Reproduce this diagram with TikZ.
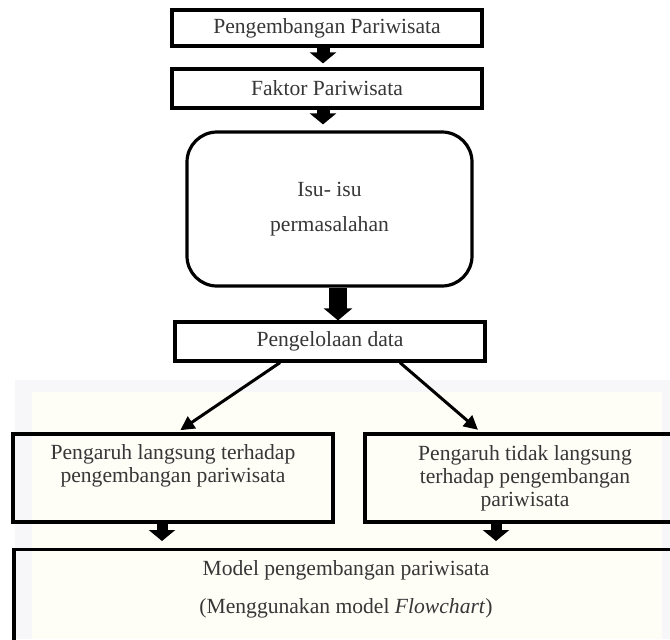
\documentclass[tikz,border=0pt]{standalone}
\usepackage{fontspec}
\setmainfont{Liberation Serif}
\usetikzlibrary{arrows.meta,calc}
\definecolor{txtgray}{RGB}{55,55,55}
\definecolor{wmgray}{RGB}{247,247,249}
\definecolor{wmcream}{RGB}{254,253,246}
\tikzset{
  box/.style={draw=black, line width=1.6pt, rectangle, inner sep=0pt,
    text=txtgray, align=center, font=\fontsize{10.8}{11.5}\selectfont},
  roundbox/.style={box, rounded corners=15pt},
  txt/.style={text=txtgray, align=center, inner sep=0pt},
  blockarrow/.style={draw=black, line width=6.5pt, -{Triangle[width=13pt,length=5.5pt]}},
  thickarrow/.style={draw=black, line width=9pt, -{Triangle[width=14pt,length=6pt]}},
  thinarrow/.style={draw=black, line width=1.5pt, -{Triangle[width=7pt,length=7pt]}}
}
\begin{document}
\begin{tikzpicture}[x=0.5pt,y=-0.5pt]
\useasboundingbox (0,0) rectangle (670,639);
\fill[white] (0,0) rectangle (670,639);
% faint watermark background
\fill[wmgray] (15,380) rectangle (670,639);
\fill[wmcream] (32,392) rectangle (662,639);

\node[box, minimum width=155pt, minimum height=18pt] (b1) at (327,28) {Pengembangan Pariwisata};
\node[box, minimum width=155pt, minimum height=19.5pt] (b2) at (327,88.5) {Faktor Pariwisata};
\node[roundbox, minimum width=142.5pt, minimum height=77pt,
      font=\fontsize{10.8}{17.5}\selectfont] (isu) at (329.5,209) {Isu- isu\\permasalahan};
\node[box, minimum width=155pt, minimum height=19.5pt] (pd) at (330,341.5) {Pengelolaan data};
\node[box, minimum width=160pt, minimum height=44pt] (lb) at (173,478)
  {Pengaruh langsung terhadap\\pengembangan pariwisata\\\strut};
\node[box, minimum width=160pt, minimum height=44pt] (rb) at (525,478)
  {Pengaruh tidak langsung\\terhadap pengembangan\\pariwisata};
\node[box, minimum width=333pt, minimum height=60pt, anchor=north] (mb) at (347,548) {};
\node[txt, font=\fontsize{10.8}{19}\selectfont] (mbt) at (346,589)
  {Model pengembangan pariwisata\\(Menggunakan model \textit{Flowchart})};

\draw[blockarrow, shorten >=2pt] ([xshift=-2pt]b1.south) -- ([xshift=-2pt]b2.north);
\draw[blockarrow, shorten >=3pt] ([xshift=-2pt]b2.south) -- ([xshift=-2pt]b2.south |- isu.north);
\draw[thickarrow] ([xshift=4.25pt]isu.south) -- ([xshift=4.25pt]isu.south |- pd.north);
\draw[thinarrow, shorten >=2pt] ([xshift=-25pt]pd.south) -- ([xshift=2pt]lb.north);
\draw[thinarrow, shorten >=2pt] ([xshift=35pt]pd.south) -- ([xshift=-22pt]rb.north);
\draw[blockarrow, line width=5.5pt, shorten >=3.5pt] ([xshift=-5.5pt]lb.south) -- ([xshift=-5.5pt]lb.south |- mb.north);
\draw[blockarrow, line width=5.5pt, shorten >=3.5pt] ([xshift=-14.5pt]rb.south) -- ([xshift=-14.5pt]rb.south |- mb.north);
\end{tikzpicture}
\end{document}
